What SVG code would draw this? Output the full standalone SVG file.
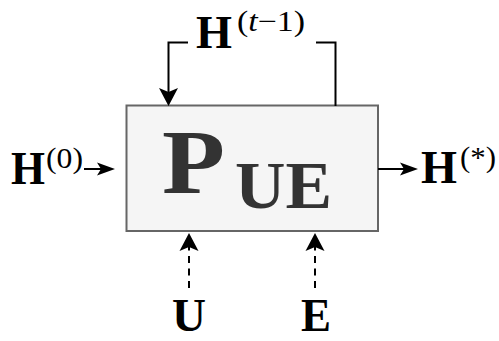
<svg xmlns="http://www.w3.org/2000/svg" width="499" height="341" viewBox="0 0 499 341">
<style>
text{font-family:'Liberation Serif','Times New Roman',serif}
.ln{fill:none;stroke:#000;stroke-width:2}
.dash{stroke-dasharray:7 5.5}
.bx{fill:#f5f5f5;stroke:#666;stroke-width:2}
.m{font-weight:bold;font-size:46px;fill:#000}
.s{font-size:29px;fill:#000}
.big{font-weight:bold;fill:#333}
</style>
<defs>
<marker id="ah" markerUnits="userSpaceOnUse" markerWidth="20" markerHeight="22" viewBox="-9 -11 20 22" refX="0" refY="0" orient="auto"><path d="M10,0 L-8,-9.5 L-4,0 L-8,9.5 Z" fill="#000"/></marker>
<marker id="as" markerUnits="userSpaceOnUse" markerWidth="20" markerHeight="16" viewBox="-9 -8 20 16" refX="0" refY="0" orient="auto"><path d="M10,0 L-8,-6.5 L-4,0 L-8,6.5 Z" fill="#000"/></marker>
</defs>
<g id="node-pue">
<rect class="bx" x="126.5" y="105.5" width="251.5" height="125.5"/>
<text class="big" x="162" y="193" font-size="92" textLength="63" lengthAdjust="spacingAndGlyphs">P</text>
<text class="big" x="235" y="208" font-size="68" textLength="97" lengthAdjust="spacingAndGlyphs">UE</text>
</g>
<g id="connectors">
<path class="ln" d="M188,42.5 H168.5 V96" marker-end="url(#ah)"/>
<path class="ln" d="M316,42.5 H335.5 V106"/>
<path class="ln" d="M84,169 H105" marker-end="url(#as)"/>
<path class="ln" d="M378,169 H408" marker-end="url(#as)"/>
<path class="ln dash" d="M189,288 V243" marker-end="url(#ah)"/>
<path class="ln dash" d="M315,288 V243" marker-end="url(#ah)"/>
</g>
<g id="label-ht1">
<text class="m" x="196" y="48" textLength="36" lengthAdjust="spacingAndGlyphs">H</text>
<text class="s" x="237" y="31" textLength="68" lengthAdjust="spacingAndGlyphs">(<tspan font-style="italic">t</tspan>−1)</text>
</g>
<g id="node-h0">
<text class="m" x="11" y="184" textLength="34" lengthAdjust="spacingAndGlyphs">H</text>
<text class="s" x="46" y="168" textLength="37" lengthAdjust="spacingAndGlyphs">(0)</text>
</g>
<g id="node-hstar">
<text class="m" x="421" y="183" textLength="36" lengthAdjust="spacingAndGlyphs">H</text>
<text class="s" x="460" y="167" textLength="36" lengthAdjust="spacingAndGlyphs">(*)</text>
</g>
<g id="node-u">
<text class="m" x="172" y="331" font-size="44" textLength="34" lengthAdjust="spacingAndGlyphs">U</text>
</g>
<g id="node-e">
<text class="m" x="301" y="331" font-size="44" textLength="30" lengthAdjust="spacingAndGlyphs">E</text>
</g>
</svg>
